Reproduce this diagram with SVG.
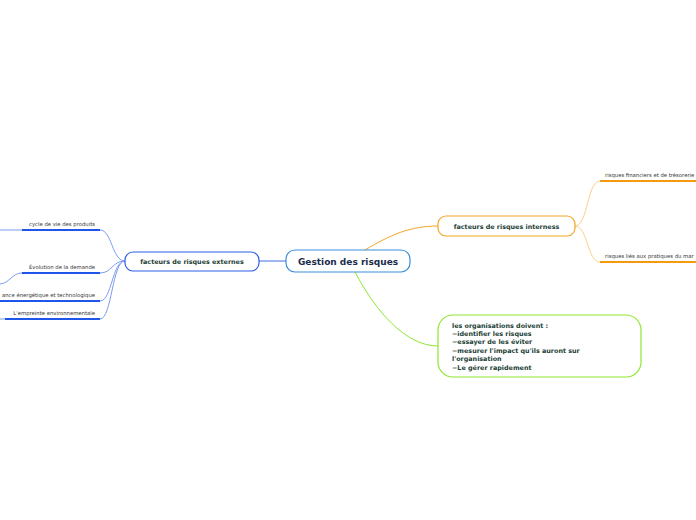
<svg xmlns="http://www.w3.org/2000/svg" width="696" height="520" viewBox="0 0 696 520">
<style>
text{font-family:"DejaVu Sans","Liberation Sans",sans-serif}
.main{font-size:9px;font-weight:bold;fill:#1a2b4c}
.sub{font-size:6.4px;font-weight:bold;fill:#1b4034}
.leaf{font-size:5.3px;fill:#333}
.c{fill:none;stroke-width:1}
</style>
<rect width="696" height="520" fill="#fff"/>
<g id="connectors">
<path class="c" d="M286,261 L259,261" stroke="#3b6fe0"/>
<path class="c" d="M365,250 C390,235 410,226 438,226" stroke="#f5a623"/>
<path class="c" d="M355,272 C375,310 405,346 438,346" stroke="#8fe830"/>
<g stroke="#7b9cf0" class="c">
<path d="M125,261 C112,261 112,230 100,230"/>
<path d="M125,261 C112,261 112,273 100,273"/>
<path d="M125,261 C112,261 112,301 100,301"/>
<path d="M125,261 C112,261 112,319 100,319"/>
<path d="M22,230 L0,230"/>
<path d="M22,273 C12,273 10,283 0,284"/>
<path d="M5,319 L0,319"/>
</g>
<g stroke="#fcd08a" class="c">
<path d="M575,226 C588,226 587,181 600,181"/>
<path d="M575,226 C588,226 587,262 600,262"/>
</g>
</g>
<g id="n-central">
<rect x="286" y="250" width="124" height="22" rx="9" fill="#fff" stroke="#3a8ed8" stroke-width="1.2"/>
<text class="main" x="348" y="264.5" text-anchor="middle">Gestion des risques</text>
</g>
<g id="n-externes">
<rect x="125" y="252" width="134" height="19" rx="8" fill="#fff" stroke="#2f5fe6" stroke-width="1.2"/>
<text class="sub" x="192" y="264" text-anchor="middle">facteurs de risques externes</text>
</g>
<g id="n-internes">
<rect x="438" y="216" width="137" height="20" rx="8" fill="#fff" stroke="#f5a623" stroke-width="1.2"/>
<text class="sub" x="506.5" y="228.5" text-anchor="middle">facteurs de risques interness</text>
</g>
<g id="n-organisations">
<rect x="438" y="315" width="203" height="62" rx="15" fill="#fff" stroke="#8fe830" stroke-width="1.2"/>
<text class="sub" x="452" y="327.5">les organisations doivent :</text>
<text class="sub" x="452" y="336">−identifier les risques</text>
<text class="sub" x="452" y="344.4">−essayer de les éviter</text>
<text class="sub" x="452" y="352.8">−mesurer l'impact qu'ils auront sur</text>
<text class="sub" x="452" y="361.2">l'organisation</text>
<text class="sub" x="452" y="369.6">−Le gérer rapidement</text>
</g>
<g id="n-cycle">
<text class="leaf" x="95" y="226" text-anchor="end">cycle de vie des produits</text>
<line x1="22" y1="230" x2="100" y2="230" stroke="#1f55e8" stroke-width="2"/>
</g>
<g id="n-evolution">
<text class="leaf" x="95" y="269" text-anchor="end">Évolution de la demande</text>
<line x1="22" y1="273" x2="100" y2="273" stroke="#1f55e8" stroke-width="2"/>
</g>
<g id="n-dependance">
<text class="leaf" x="95" y="297" text-anchor="end">ance énergétique et technologique</text>
<line x1="0" y1="301" x2="100" y2="301" stroke="#1f55e8" stroke-width="2"/>
</g>
<g id="n-empreinte">
<text class="leaf" x="95" y="315" text-anchor="end">L'empreinte environnementale</text>
<line x1="5" y1="319" x2="100" y2="319" stroke="#1f55e8" stroke-width="2"/>
</g>
<g id="n-financiers">
<text class="leaf" x="605" y="177">risques financiers et de trésorerie</text>
<line x1="600" y1="181" x2="696" y2="181" stroke="#f59a0e" stroke-width="2"/>
</g>
<g id="n-pratiques">
<text class="leaf" x="605" y="258">risques liés aux pratiques du mar</text>
<line x1="600" y1="262" x2="696" y2="262" stroke="#f59a0e" stroke-width="2"/>
</g>
</svg>
